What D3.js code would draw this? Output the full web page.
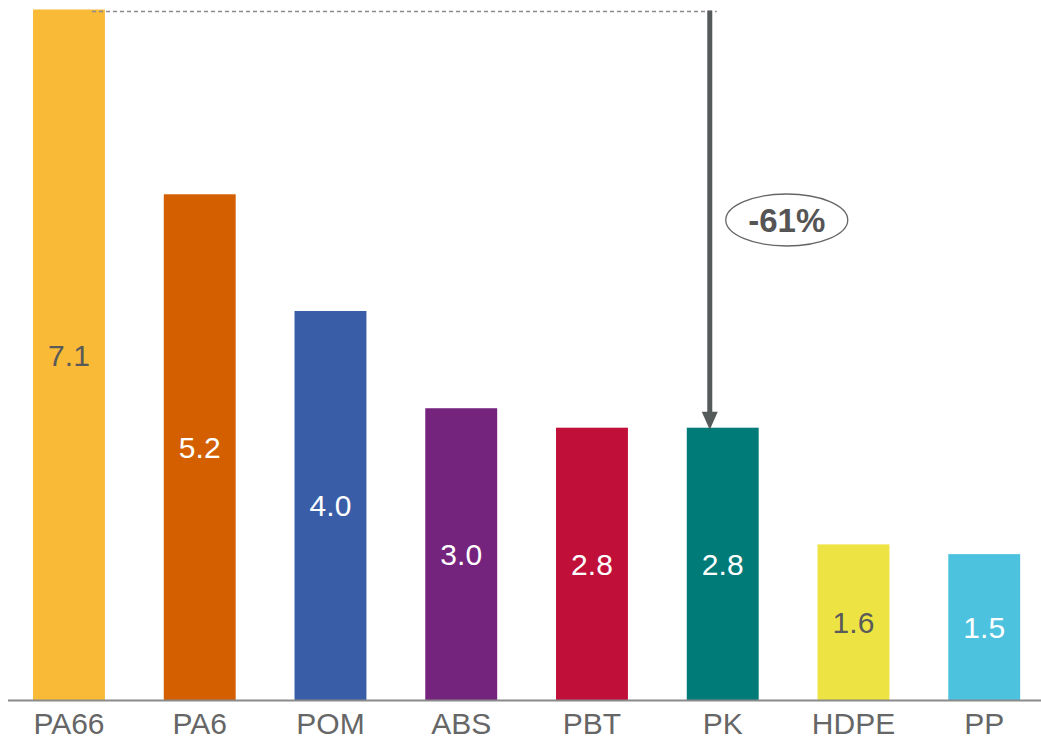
<!DOCTYPE html>
<html>
<head>
<meta charset="utf-8">
<script src="https://cdn.jsdelivr.net/npm/d3@7"></script>
<style>
  body { margin: 0; background: #fff; }
  svg { display: block; font-family: "Liberation Sans", Arial, sans-serif; }
</style>
</head>
<body>
<div id="chart"></div>
<script>
const categories = ["PA66", "PA6", "POM", "ABS", "PBT", "PK", "HDPE", "PP"];
const values = [7.1, 5.2, 4.0, 3.0, 2.8, 2.8, 1.6, 1.5];
const colors = ["#F9BA38", "#D35F00", "#3A5DA8", "#75247E", "#C0103A", "#007B78", "#EDE443", "#4DC2DF"];
const labelColors = ["#5a5a5a", "#fff", "#fff", "#fff", "#fff", "#fff", "#5a5a5a", "#fff"];
const changeLabel = "-61%";

const width = 1041, height = 742;

const svg = d3.select("#chart").append("svg")
    .attr("width", width)
    .attr("height", height);

// scales
const x = d3.scaleBand()
    .domain(categories)
    .range([3.6, 1049.6])
    .paddingInner(0.45)
    .paddingOuter(0.225);

const y = d3.scaleLinear()
    .domain([0, 7.1])
    .range([700, 9.5]);

const data = categories.map((c, i) => ({cat: c, value: values[i], color: colors[i], lc: labelColors[i]}));

// bars
svg.selectAll(".bar")
    .data(data)
    .enter()
    .append("rect")
    .attr("class", "bar")
    .attr("x", d => x(d.cat))
    .attr("y", d => y(d.value))
    .attr("width", x.bandwidth())
    .attr("height", d => y(0) - y(d.value))
    .attr("fill", d => d.color);

// value labels in the middle of each bar
svg.selectAll(".val")
    .data(data)
    .enter()
    .append("text")
    .attr("class", "val")
    .attr("x", d => x(d.cat) + x.bandwidth() / 2)
    .attr("y", d => (y(d.value) + y(0)) / 2)
    .attr("dy", "0.36em")
    .attr("text-anchor", "middle")
    .attr("font-size", 30)
    .attr("fill", d => d.lc)
    .text(d => d.value.toFixed(1));

// x axis
const xAxis = svg.append("g")
    .attr("transform", `translate(0, ${y(0) + 0.5})`)
    .call(d3.axisBottom(x).tickSize(0).tickPadding(12));
xAxis.select(".domain")
    .attr("d", "M8,0H1041")
    .attr("stroke", "#8a8a8a")
    .attr("stroke-width", 2);
xAxis.selectAll("text")
    .attr("font-size", 30)
    .attr("font-family", "Liberation Sans, Arial, sans-serif")
    .attr("fill", "#666");

// annotation: dashed reference line from PA66 top and arrow down to PK
const arrowX = x("PK") + 23;
const topY = y(values[0]) + 2;

svg.append("line")
    .attr("x1", x("PA66") + 59)
    .attr("x2", arrowX + 7)
    .attr("y1", topY)
    .attr("y2", topY)
    .attr("stroke", "#8a8a8a")
    .attr("stroke-width", 1.5)
    .attr("stroke-dasharray", "4,3");

const pkTop = y(values[5]);
svg.append("line")
    .attr("x1", arrowX)
    .attr("x2", arrowX)
    .attr("y1", topY - 1)
    .attr("y2", pkTop - 14)
    .attr("stroke", "#555a5a")
    .attr("stroke-width", 5);

svg.append("path")
    .attr("d", `M${arrowX - 8},${pkTop - 16}L${arrowX + 8},${pkTop - 16}L${arrowX},${pkTop + 2}Z`)
    .attr("fill", "#555a5a");

// ellipse label
const ex = arrowX + 77, ey = 220;
svg.append("ellipse")
    .attr("cx", ex)
    .attr("cy", ey)
    .attr("rx", 61)
    .attr("ry", 26)
    .attr("fill", "#fff")
    .attr("stroke", "#666")
    .attr("stroke-width", 1.3);

svg.append("text")
    .attr("x", ex)
    .attr("y", ey)
    .attr("dy", "0.36em")
    .attr("text-anchor", "middle")
    .attr("font-size", 33)
    .attr("font-weight", "bold")
    .attr("fill", "#555")
    .text(changeLabel);
</script>
</body>
</html>
